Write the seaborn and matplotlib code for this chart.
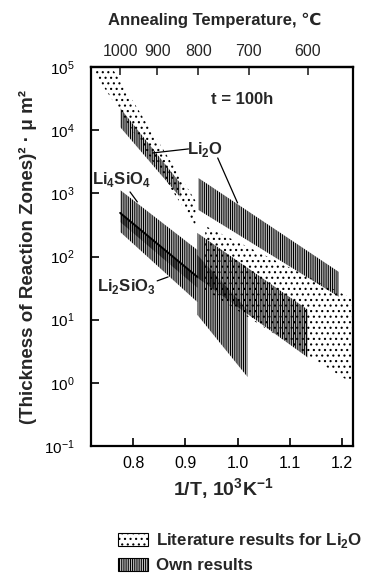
import numpy as np
import pandas as pd
import matplotlib
matplotlib.use('Agg')
import matplotlib.pyplot as plt
import seaborn as sns
from matplotlib.patches import Patch
from matplotlib.ticker import NullLocator

# Bands: 1/T (10^3 K^-1) at both ends, thickness^2 (um^2) of upper and lower edge at both ends
band_names = ['lit_hi', 'lit_lo', 'Li2O_hi', 'Li2O_lo',
              'Li4SiO4_hi', 'Li2SiO3_hi', 'silicate_lo_a', 'silicate_lo_b']
band_kind = ['lit', 'lit', 'own', 'own', 'own', 'own', 'own', 'own']
x_start = [0.715, 0.938, 0.775, 0.925, 0.775, 0.775, 0.923, 0.923]
x_end = [0.920, 1.218, 0.890, 1.194, 0.923, 0.923, 1.135, 1.019]
upper_start = [3.7e5, 305, 22400, 1750, 1130, 490, 236, 106]
upper_end = [750, 22, 1460, 57, 127, 47.5, 14.3, 14.3]
lower_start = [1.1e5, 29.6, 11200, 546, 352, 245, 46, 11.9]
lower_end = [300, 1.0, 870, 23, 32, 19, 2.5, 1.24]

# top axis: annealing temperature ticks, placed
temp_labels = ['1000', '900', '800', '700', '600']
temp_pos = [0.775, 0.846, 0.925, 1.021, 1.135]

x_ticks = [0.8, 0.9, 1.0, 1.1, 1.2]

sns.set_theme(style='ticks')
plt.rcParams['font.family'] = ['Liberation Sans', 'DejaVu Sans']
plt.rcParams['mathtext.fontset'] = 'custom'
plt.rcParams['mathtext.rm'] = 'Liberation Sans'
plt.rcParams['mathtext.bf'] = 'Liberation Sans:bold'
plt.rcParams['hatch.linewidth'] = 0.8
plt.rcParams['hatch.color'] = 'black'

fig = plt.figure(figsize=(3.8, 5.82), dpi=100)
ax = fig.add_axes([91 / 380, 1 - 446 / 582, 262 / 380, 379 / 582])

hatches = {'lit': '...', 'own': '|||||||||'}
for i in range(len(band_names)):
    ax.fill_between([x_start[i], x_end[i]],
                    [lower_start[i], lower_end[i]],
                    [upper_start[i], upper_end[i]],
                    facecolor='none', edgecolor='black', linewidth=0,
                    hatch=hatches[band_kind[i]])

# solid line along the Li2SiO3 band
k = band_names.index('Li2SiO3_hi')
line_df = pd.DataFrame({'x': [x_start[k], x_end[k]], 'y': [upper_start[k], upper_end[k]]})
sns.lineplot(data=line_df, x='x', y='y', color='black', linewidth=1.4, ax=ax)

ax.set_yscale('log')
ax.set_xlim(0.7192, 1.2212)
ax.set_ylim(1e-1, 1e5)
ax.yaxis.set_minor_locator(NullLocator())
ax.set_xticks(x_ticks, labels=[f'{v:.1f}' for v in x_ticks])
ax.tick_params(axis='both', direction='in', length=6, width=1.2, labelsize=11.5,
               colors='black', pad=7)
ax.tick_params(axis='y', pad=12, labelsize=11)
for s in ax.spines.values():
    s.set_linewidth(1.6)
    s.set_color('black')

sec = ax.secondary_xaxis('top')
sec.set_xticks(temp_pos, labels=temp_labels)
sec.tick_params(direction='in', length=6, width=1.2, labelsize=11.5, pad=6)
sec.spines['top'].set_linewidth(1.6)

ax.set_xlabel('1/T, 10$^\\mathbf{3}$K$^\\mathbf{-1}$', fontsize=14, fontweight='bold')
ax.xaxis.set_label_coords(0.504, -0.079)
ax.set_ylabel('(Thickness of Reaction Zones)² · μ m²', fontsize=13.5, fontweight='bold')
ax.yaxis.set_label_coords(-0.205, 0.5)
fig.text(215 / 380, 1 - 20 / 582, 'Annealing Temperature, ℃', ha='center', va='center',
         fontsize=12, fontweight='bold')

txt = dict(fontsize=12, fontweight='bold', ha='center', va='center')
ax.text(1.008, 10 ** 4.478, 't = 100h', **txt)
ax.text(0.938, 10 ** 3.687, 'Li$_\\mathbf{2}$O', **txt)
ax.text(0.777, 10 ** 3.212, 'Li$_\\mathbf{4}$SiO$_\\mathbf{4}$', **txt)
ax.text(0.787, 10 ** 1.519, 'Li$_\\mathbf{2}$SiO$_\\mathbf{3}$', **txt)

lead = dict(arrowstyle='-', color='black', lw=0.9, shrinkA=0, shrinkB=0)
ax.annotate('', xy=(0.837, 10 ** 3.639), xytext=(0.906, 10 ** 3.703), arrowprops=lead)
ax.annotate('', xy=(1.0, 10 ** 2.848), xytext=(0.962, 10 ** 3.56), arrowprops=lead)
ax.annotate('', xy=(0.808, 10 ** 2.864), xytext=(0.794, 10 ** 3.022), arrowprops=lead)
ax.annotate('', xy=(0.867, 10 ** 1.677), xytext=(0.846, 10 ** 1.614), arrowprops=lead)

handles = [Patch(facecolor='white', edgecolor='black', hatch='...', lw=0.8,
                 label='Literature results for Li$_\\mathbf{2}$O'),
           Patch(facecolor='white', edgecolor='black', hatch='|||||||||', lw=0.8,
                 label='Own results')]
fig.legend(handles=handles, loc='upper left', bbox_to_anchor=(118 / 380, 1 - 531 / 582),
           frameon=False, borderpad=0, borderaxespad=0, handlelength=1.75,
           handleheight=0.8, handletextpad=0.5, labelspacing=0.45,
           prop={'size': 12.2, 'weight': 'bold'})

fig.savefig('out.png', dpi=100)
